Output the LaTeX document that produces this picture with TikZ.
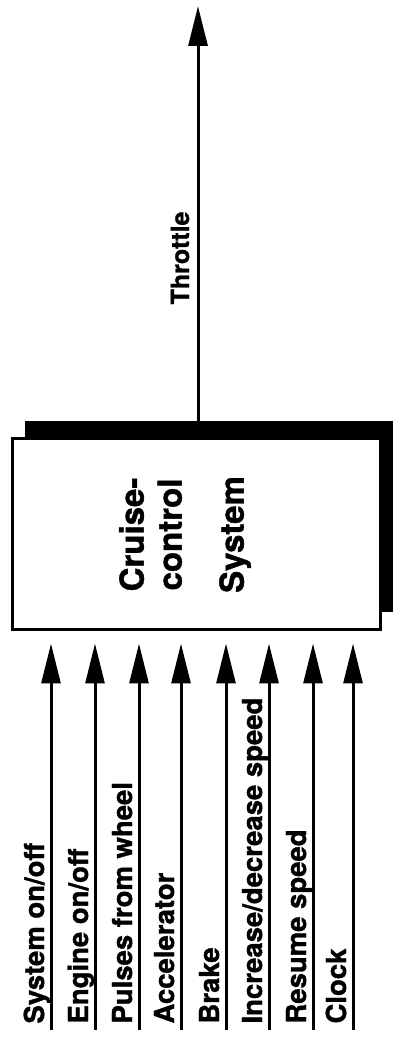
\documentclass[tikz,border=0pt]{standalone}
\usepackage{fontspec}
\setmainfont{TeX Gyre Heros}[BoldFeatures={FakeBold=1.2}]
\usetikzlibrary{arrows.meta,shadows}
\tikzset{>={Triangle[length=40pt,width=19pt]}}

\begin{document}
\begin{tikzpicture}[x=1pt,y=1pt,line width=3pt,
  sysbox/.style={draw,fill=white,minimum width=368pt,minimum height=191pt,
    drop shadow={shadow xshift=13pt,shadow yshift=18pt,fill=black,opacity=1}},
  flowlabel/.style={rotate=90,inner sep=0pt,font=\bfseries\fontsize{27.5}{32}\selectfont},
  flow/.style={->,shorten >=12pt}]
\useasboundingbox (0,0) rectangle (392,1059);
\node[sysbox] (box) at (196,524.5) {};
\node[rotate=90,align=center,font=\bfseries\fontsize{33}{38}\selectfont] (name) at ([xshift=-11pt]box.center) {Cruise-\\control\\[24pt]System};
% Output: one flow leaves the top edge.
\coordinate (throttle) at (198,1053);
\draw[->] (throttle |- box.north) -- (throttle);
\node[flowlabel,font=\bfseries\fontsize{25}{28}\selectfont,anchor=base] (throttlelabel) at (189,801) {Throttle};
% Inputs: eight flows enter the bottom edge, labels read upwards.
\foreach \k/\xx/\txt in {1/51/{System on/off},2/95/{Engine on/off},3/139/{Pulses from wheel},
  4/181/{Accelerator},5/226/{Brake},6/269/{Increase/decrease speed},7/313/{Resume speed},8/353/{Clock}}{
  \coordinate (src\k) at (\xx,29);
  \draw[flow] (src\k) -- (src\k |- box.south);
  \node[flowlabel,anchor=base west] (lab\k) at (\xx-7,34) {\txt};
}
\end{tikzpicture}
\end{document}
